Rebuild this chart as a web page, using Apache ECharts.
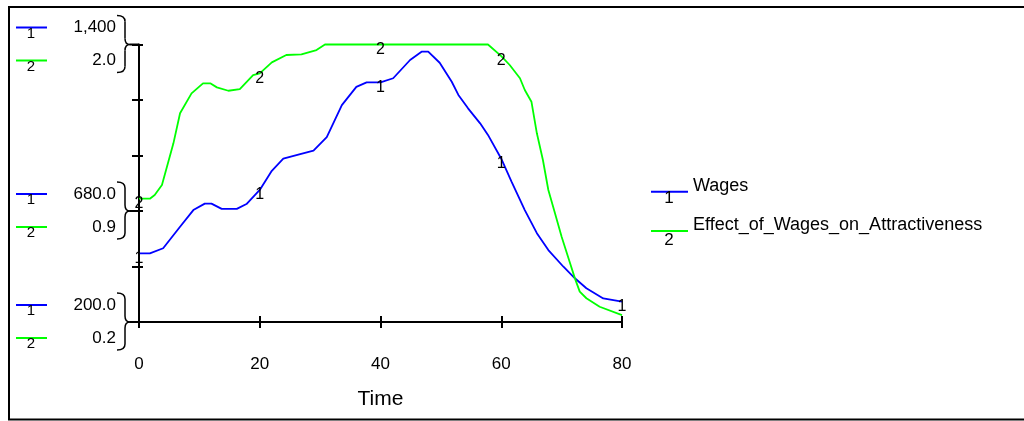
<!DOCTYPE html>
<html>
<head>
<meta charset="utf-8">
<script src="https://cdn.jsdelivr.net/npm/echarts@6.0.0/dist/echarts.min.js"></script>
<style>
  html, body { margin: 0; padding: 0; background: #fff; }
  #main { width: 1024px; height: 421px; }
</style>
</head>
<body>
<div id="main"></div>
<script>
// data
const wagesTime = [0, 1.8, 4, 6.8, 9, 10.9, 12, 13.7, 16.2, 17.8, 20, 22, 23.9, 26.7, 28.9, 31.1, 33.6, 36, 37.7, 40, 42.1, 44.9, 46.8, 47.9, 49.8, 51.8, 52.9, 54.5, 56.5, 57.8, 60, 61.7, 63.9, 65.9, 67.8, 70.3, 72.2, 74.1, 76.9, 80]
const wages = [497, 497, 519, 612, 684, 712, 712, 689, 689, 710, 771, 854, 906, 926, 941, 999, 1138, 1217, 1236, 1236, 1254, 1333, 1369, 1369, 1321, 1239, 1182, 1124, 1059, 1009, 906, 807, 684, 584, 511, 439, 389, 346, 302, 288]

const effectTime = [0, 1.8, 2.6, 3.8, 5.7, 6.8, 8.7, 10.6, 11.8, 12.9, 14.8, 16.7, 18.9, 20, 22, 24.4, 26.9, 29.4, 30.8, 40, 57.8, 60, 61.4, 63.1, 63.9, 65, 65.9, 66.9, 67.8, 68.9, 70, 71.4, 72.2, 73, 74.1, 76.3, 80]
const effect = [1.0, 1.0, 1.024, 1.089, 1.359, 1.554, 1.683, 1.748, 1.748, 1.722, 1.7, 1.711, 1.802, 1.813, 1.884, 1.932, 1.936, 1.964, 2.0, 2.0, 2.0, 1.925, 1.867, 1.781, 1.705, 1.629, 1.424, 1.251, 1.056, 0.905, 0.753, 0.581, 0.483, 0.397, 0.354, 0.299, 0.245]

// where the curve numbers are printed
const wagesMarkTimes = [0, 20, 40, 60, 80]
const effectMarkTimes = [0, 20, 40, 60]

// left scale labels
const wagesTickValues = [200, 680, 1400]
const wagesTickLabels = ['200.0', '680.0', '1,400']
const effectTickLabels = ['0.2', '0.9', '2.0']

const seriesNames = ['Wages', 'Effect_of_Wages_on_Attractiveness']

const FONT = '"Liberation Sans", Arial, sans-serif'
const BLUE = '#0000ff'
const GREEN = '#00ff00'

function lineSeries(name, times, values, color, num, markTimes, yIndex) {
    return {
        name: name,
        type: 'line',
        xAxisIndex: 0,
        yAxisIndex: yIndex,
        data: times.map((t, i) => [t, values[i]]),
        symbol: 'circle',
        symbolSize: 0,
        showAllSymbol: true,
        clip: false,
        silent: true,
        lineStyle: { color: color, width: 1.8 },
        itemStyle: { color: color },
        label: {
            show: true,
            position: 'inside',
            offset: [0, 5],
            color: '#000',
            fontFamily: FONT,
            fontSize: 16,
            formatter: p => markTimes.indexOf(p.value[0]) >= 0 ? num : ''
        }
    }
}

const option = {
    animation: false,
    grid: { left: 139, top: 44.5, right: 402, bottom: 99, containLabel: false },
    xAxis: [
        {
            type: 'value', min: 0, max: 80, interval: 20,
            name: 'Time', nameLocation: 'middle', nameGap: 67,
            nameTextStyle: { color: '#000', fontSize: 21, fontFamily: FONT },
            axisLine: { lineStyle: { color: '#000', width: 2 } },
            axisTick: { length: 6, lineStyle: { color: '#000', width: 2 } },
            axisLabel: { color: '#000', fontSize: 17, fontFamily: FONT, margin: 34 },
            splitLine: { show: false }
        },
        {
            // inner half of the crossing ticks
            type: 'value', min: 0, max: 80, interval: 20, position: 'bottom',
            axisLine: { show: false },
            axisTick: { inside: true, length: 6, lineStyle: { color: '#000', width: 2 } },
            axisLabel: { show: false },
            splitLine: { show: false }
        }
    ],
    yAxis: [
        { type: 'value', min: 200, max: 1400, show: false },
        { type: 'value', min: 0.2, max: 2.0, show: false },
        {
            // shared tick frame, 5 divisions
            type: 'value', min: 0, max: 5, interval: 1, position: 'left',
            axisLine: { show: true, lineStyle: { color: '#000', width: 2 } },
            axisTick: { show: true, length: 7, lineStyle: { color: '#000', width: 2 } },
            axisLabel: { show: false },
            splitLine: { show: false }
        },
        {
            type: 'value', min: 0, max: 5, interval: 1, position: 'left',
            axisLine: { show: false },
            axisTick: { show: true, inside: true, length: 4, lineStyle: { color: '#000', width: 2 } },
            axisLabel: { show: false },
            splitLine: { show: false }
        }
    ],
    series: [
        lineSeries(seriesNames[0], wagesTime, wages, BLUE, '1', wagesMarkTimes, 0),
        lineSeries(seriesNames[1], effectTime, effect, GREEN, '2', effectMarkTimes, 1)
    ]
}

const chart = echarts.init(document.getElementById('main'), null, { renderer: 'canvas' })
chart.setOption(option)

function txt(text, x, y, align, size) {
    return {
        type: 'text', silent: true,
        style: { text: text, x: x, y: y, align: align, verticalAlign: 'middle', fill: '#000', fontSize: size, fontFamily: FONT }
    }
}
function seg(x1, y1, x2, y2, color, w) {
    return { type: 'line', silent: true, shape: { x1, y1, x2, y2 }, style: { stroke: color, lineWidth: w } }
}
function curve(x1, y1, cx, cy, x2, y2) {
    return {
        type: 'bezierCurve', silent: true,
        shape: { x1, y1, x2, y2, cpx1: cx, cpy1: cy },
        style: { stroke: '#000', lineWidth: 1.5, fill: null }
    }
}
// curly brace whose tip points at the axis at y
function brace(y) {
    const x0 = 117, x1 = 125, tx = 130
    const t = y - 29, b = y + 28
    return [
        curve(x0, t, x1, t, x1, t + 6),
        seg(x1, t + 6, x1, y - 6, '#000', 1.5),
        curve(x1, y - 6, x1, y, tx, y),
        curve(tx, y, x1, y, x1, y + 6),
        seg(x1, y + 6, x1, b - 6, '#000', 1.5),
        curve(x1, b - 6, x1, b, x0, b),
        seg(tx, y, 139, y, '#000', 2)
    ]
}

const graphic = []
// frame
graphic.push({
    type: 'rect', silent: true,
    shape: { x: 9, y: 7, width: 1040, height: 412.5 },
    style: { fill: null, stroke: '#000', lineWidth: 2 }
})

wagesTickValues.forEach((v, i) => {
    const y = chart.convertToPixel({ yAxisIndex: 0 }, v)
    const yb = y - 17, yg = y + 16
    graphic.push(seg(16, yb, 47, yb, BLUE, 2))
    graphic.push(txt('1', 31, yb + 6, 'center', 15))
    graphic.push(txt(wagesTickLabels[i], 116, yb, 'right', 17))
    graphic.push(seg(16, yg, 47, yg, GREEN, 2))
    graphic.push(txt('2', 31, yg + 6, 'center', 15))
    graphic.push(txt(effectTickLabels[i], 116, yg, 'right', 17))
    brace(y).forEach(el => graphic.push(el))
})

// legend at the right
graphic.push(seg(651, 191.7, 688, 191.7, BLUE, 2))
graphic.push(txt('1', 669, 198.5, 'center', 17))
graphic.push(txt(seriesNames[0], 693, 186, 'left', 18))
graphic.push(seg(651, 231, 688, 231, GREEN, 2))
graphic.push(txt('2', 669, 240, 'center', 17))
graphic.push(txt(seriesNames[1], 693, 225, 'left', 18))

chart.setOption({ graphic: graphic })
</script>
</body>
</html>
